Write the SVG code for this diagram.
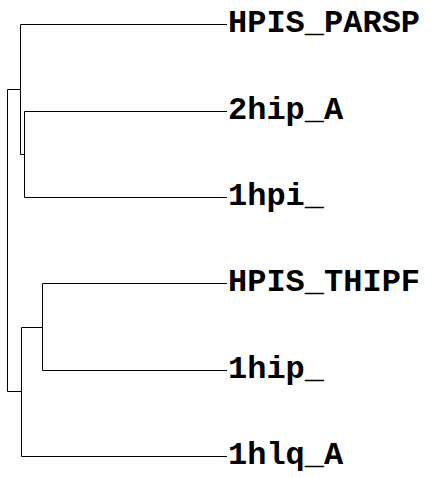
<svg xmlns="http://www.w3.org/2000/svg" width="439" height="477" viewBox="0 0 439 477">
<style>
.e{fill:none;stroke:#000;stroke-width:1}
.t{font-family:"Liberation Mono","Courier New",monospace;font-weight:bold;font-size:32px;fill:#000}
</style>
<rect width="439" height="477" fill="#fff"/>
<g id="connectors">
<path class="e" d="M7.5,89.5H20.5M7.5,89.5V391.5M7.5,391.5H21.5"/>
<path class="e" d="M20.5,24.5V154.5M20.5,24.5H227M20.5,154.5H24.5"/>
<path class="e" d="M24.5,111.5V197.5M24.5,111.5H227M24.5,197.5H227"/>
<path class="e" d="M21.5,327.5V456.5M21.5,327.5H42.5M21.5,456.5H227"/>
<path class="e" d="M42.5,283.5V370.5M42.5,283.5H227M42.5,370.5H227"/>
</g>
<g id="HPIS_PARSP"><text class="t" x="228" y="32">HPIS_PARSP</text></g>
<g id="2hip_A"><text class="t" x="228" y="119">2hip_A</text></g>
<g id="1hpi_"><text class="t" x="228" y="205">1hpi_</text></g>
<g id="HPIS_THIPF"><text class="t" x="228" y="291">HPIS_THIPF</text></g>
<g id="1hip_"><text class="t" x="228" y="378">1hip_</text></g>
<g id="1hlq_A"><text class="t" x="228" y="464">1hlq_A</text></g>
</svg>
